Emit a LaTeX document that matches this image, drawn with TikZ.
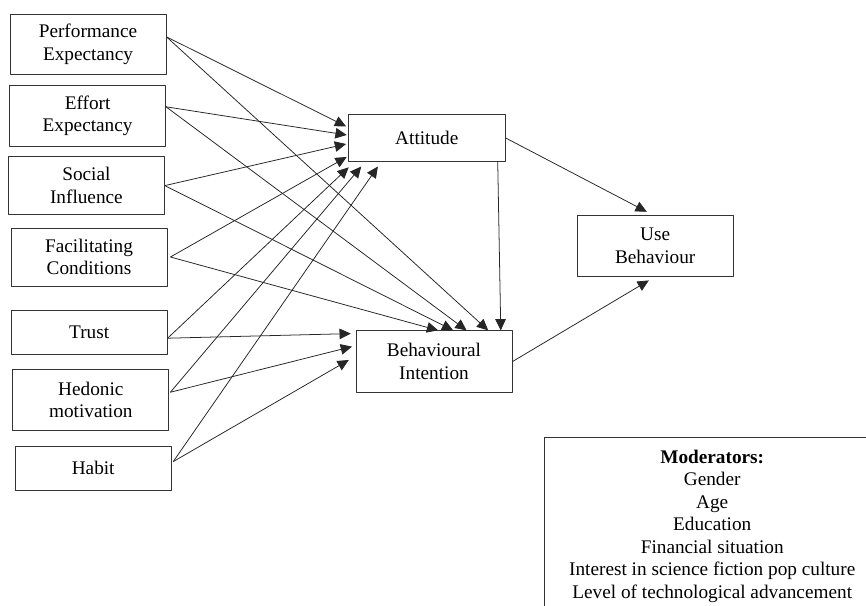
\documentclass[tikz,border=0pt]{standalone}
\usepackage{fontspec}
\setmainfont{LiberationSerif}[Extension=.ttf, UprightFont=*-Regular, BoldFont=*-Bold, ItalicFont=*-Italic, BoldItalicFont=*-BoldItalic]
\usetikzlibrary{arrows.meta}

\tikzset{
  box/.style={draw=black!80, line width=0.6pt, align=center, minimum width=3.9cm, minimum height=1.52cm, inner sep=2pt},
  lowbox/.style={box, minimum height=1.1cm},
  link/.style={->, line width=0.55pt, draw=black!85},
}

\begin{document}
\begin{tikzpicture}[font=\rmfamily\fontsize{13.7}{16}\selectfont, line join=round, >={Triangle[length=8pt,width=7.5pt]}]
  \useasboundingbox (0,0) rectangle (21.65,-15.125);
  \clip (0,0) rectangle (21.65,-15.125);
  % determinants
  \node[box] (pe) at (2.2,-1.11) {Performance\\Expectancy};
  \node[box] (ee) at (2.19,-2.89) {Effort\\Expectancy};
  \node[box, minimum height=1.44cm] (si) at (2.16,-4.64) {Social\\Influence};
  \node[box, minimum height=1.45cm] (fc) at (2.225,-6.425) {Facilitating\\Conditions};
  \node[lowbox] (tr) at (2.23,-8.305) {Trust};
  \node[box] (hm) at (2.27,-10.0) {Hedonic\\motivation};
  \node[lowbox] (hb) at (2.33,-11.7) {Habit};
  % attitude, intention, behaviour
  \node[box, minimum width=3.925cm, minimum height=1.185cm] (att) at (10.67,-3.45) {Attitude};
  \node[box, minimum height=1.54cm] (bi) at (10.85,-9.04) {Behavioural\\Intention};
  \node[box] (ub) at (16.38,-6.14) {Use\\Behaviour};
  % moderators (box runs off the page)
  \node[box, anchor=north west, minimum width=8.39cm, inner ysep=9pt] (mod) at (13.6,-10.925)
    {\textbf{Moderators:}\\Gender\\Age\\Education\\Financial situation\\Interest in science fiction pop culture\\Level of technological advancement};
  % arrow ends
  \coordinate (pe-o) at ([yshift=0.19cm]pe.east);
  \coordinate (ee-o) at ([yshift=0.22cm]ee.east);
  \coordinate (si-o) at (si.east);
  \coordinate (fc-o) at ([xshift=0.075cm]fc.east);
  \coordinate (tr-o) at ([yshift=-0.15cm]tr.east);
  \coordinate (hm-o) at ([xshift=0.03cm,yshift=0.195cm]hm.east);
  \coordinate (hb-o) at ([xshift=0.04cm,yshift=0.16cm]hb.east);
  \coordinate (att-1) at ([xshift=-0.045cm,yshift=0.29cm]att.west);
  \coordinate (att-2) at ([xshift=-0.03cm,yshift=0.075cm]att.west);
  \coordinate (att-3) at ([xshift=-0.045cm,yshift=-0.15cm]att.west);
  \coordinate (att-4) at ([xshift=-0.03cm,yshift=-0.475cm]att.west);
  \coordinate (att-5) at ([xshift=0.02cm,yshift=-0.13cm]att.south west);
  \coordinate (att-6) at ([xshift=0.335cm,yshift=-0.11cm]att.south west);
  \coordinate (att-7) at ([xshift=0.75cm,yshift=-0.11cm]att.south west);
  \coordinate (bi-1) at ([xshift=2.065cm]bi.north west);
  \coordinate (bi-2) at ([xshift=2.44cm]bi.north west);
  \coordinate (bi-3) at ([xshift=2.775cm]bi.north west);
  \coordinate (bi-4) at ([xshift=3.315cm]bi.north west);
  \coordinate (bi-5) at ([xshift=-0.12cm,yshift=0.7cm]bi.west);
  \coordinate (bi-6) at ([xshift=-0.09cm,yshift=0.375cm]bi.west);
  \coordinate (bi-7) at ([xshift=-0.17cm,yshift=0.04cm]bi.west);
  % paths
  \foreach \a/\b in {pe-o/att-1, ee-o/att-2, si-o/att-3, fc-o/att-4, tr-o/att-5, hm-o/att-6, hb-o/att-7,
                     fc-o/bi-1, si-o/bi-2, ee-o/bi-3, pe-o/bi-4, tr-o/bi-5, hm-o/bi-6, hb-o/bi-7}
    \draw[link] (\a) -- (\b);
  \draw[link] ([xshift=-0.2cm]att.south east) -- ([xshift=3.63cm]bi.north west);
  \draw[link] (att.east) -- ([xshift=-0.21cm,yshift=0.075cm]ub.north);
  \draw[link] (bi.east) -- ([xshift=-0.16cm,yshift=-0.1cm]ub.south);
\end{tikzpicture}
\end{document}
